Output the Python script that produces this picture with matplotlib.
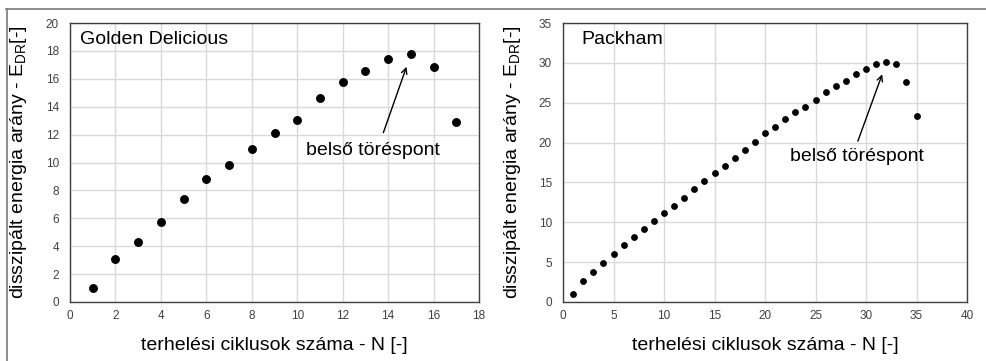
import numpy as np
import matplotlib.pyplot as plt
from matplotlib.lines import Line2D

plt.rcParams['font.family'] = ['Liberation Sans', 'DejaVu Sans']

# Golden Delicious
gd_n = list(range(1, 18))
gd_edr = [1.0, 3.1, 4.3, 5.7, 7.4, 8.85, 9.85, 11.0, 12.1, 13.05,
          14.65, 15.75, 16.55, 17.45, 17.75, 16.85, 12.9]

# Packham
pk_n = list(range(1, 36))
pk_edr = [1.0, 2.65, 3.8, 4.95, 6.0, 7.15, 8.15, 9.15, 10.15, 11.15,
          12.1, 13.1, 14.15, 15.15, 16.15, 17.1, 18.1, 19.05, 20.1, 21.15,
          21.95, 22.9, 23.8, 24.45, 25.3, 26.35, 27.15, 27.75, 28.6, 29.2,
          29.85, 30.1, 29.9, 27.55, 23.3]

W, H = 986, 361
fig = plt.figure(figsize=(W / 100, H / 100), dpi=100)

# outer frame (top and left edges only, as in the cropped original)
fig.add_artist(Line2D([6 / W, 1], [1 - 8.5 / H, 1 - 8.5 / H], color='#7a7a7a', lw=1.2))
fig.add_artist(Line2D([6.5 / W, 6.5 / W], [0, 1 - 8.5 / H], color='#7a7a7a', lw=1.2))

ylabel = 'disszipált energia arány - E$_{\\mathregular{DR}}$[-]'
xlabel = 'terhelési ciklusok száma - N [-]'
FS = 14


def style_axes(ax, xmax, xstep, ymax, ystep):
    ax.set_xlim(0, xmax)
    ax.set_ylim(0, ymax)
    ax.set_xticks(np.arange(0, xmax + 0.1, xstep))
    ax.set_yticks(np.arange(0, ymax + 0.1, ystep))
    ax.grid(True, color='#d9d9d9', lw=1.0)
    ax.set_axisbelow(True)
    for s in ax.spines.values():
        s.set_color('#404040')
        s.set_linewidth(1.0)
    ax.tick_params(length=0, labelsize=8.5, colors='#404040')
    ax.tick_params(axis='y', pad=8)
    ax.tick_params(axis='x', pad=6)
    ax.set_xlabel(xlabel, fontsize=FS)
    ax.set_ylabel(ylabel, fontsize=FS)
    ax.xaxis.set_label_coords(0.5, -0.125)
    ax.yaxis.set_label_coords(-0.1, 0.5)


ax1 = fig.add_axes([70 / W, 59 / H, 409 / W, 279 / H])
style_axes(ax1, 18, 2, 20, 2)
ax1.plot(gd_n, gd_edr, 'o', color='black', ms=5.4, zorder=3)
ax1.text(0.025, 0.94, 'Golden Delicious', transform=ax1.transAxes,
         fontsize=FS, va='center', ha='left')
ax1.text(13.35, 10.85, 'belső töréspont', fontsize=FS, ha='center', va='center')
ax1.annotate('', xy=(14.85, 17.05), xytext=(13.75, 11.95),
             arrowprops=dict(arrowstyle='->', color='black', lw=1.0))

ax2 = fig.add_axes([563 / W, 59 / H, 404 / W, 279 / H])
style_axes(ax2, 40, 5, 35, 5)
ax2.plot(pk_n, pk_edr, 'o', color='black', ms=3.9, zorder=3)
ax2.text(0.045, 0.94, 'Packham', transform=ax2.transAxes,
         fontsize=FS, va='center', ha='left')
ax2.text(29.1, 18.25, 'belső töréspont', fontsize=FS, ha='center', va='center')
ax2.annotate('', xy=(31.7, 28.9), xytext=(29.1, 19.85),
             arrowprops=dict(arrowstyle='->', color='black', lw=1.0))

fig.savefig('out.png', dpi=100)
